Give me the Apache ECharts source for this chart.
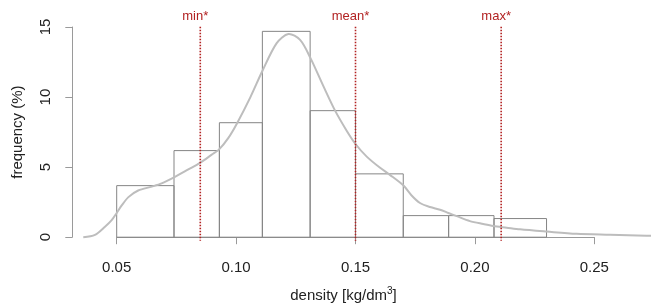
<!DOCTYPE html>
<html><head><meta charset="utf-8">
<script src="https://cdn.jsdelivr.net/npm/echarts@6/dist/echarts.min.js"></script>
<style>html,body{margin:0;padding:0;background:#fff}#c{width:651px;height:308px}</style>
</head><body><div id="c"></div>
<script>
// histogram bin edges (density, kg/dm3) and frequencies (%)
var binEdges = [0.050, 0.074, 0.093, 0.111, 0.131, 0.150, 0.170, 0.189, 0.208, 0.230];
var binFreq  = [3.68, 6.18, 8.17, 14.69, 9.03, 4.52, 1.54, 1.54, 1.33];
// kernel density curve (scaled to %)
var curveX = [0.0360, 0.0409, 0.0451, 0.0479, 0.0500, 0.0521, 0.0549, 0.0590, 0.0647, 0.0688, 0.0744, 0.0800, 0.0849, 0.0898, 0.0928, 0.0967, 0.1003, 0.1060, 0.1110, 0.1170, 0.1219, 0.1268, 0.1311, 0.1365, 0.1414, 0.1463, 0.1500, 0.1547, 0.1603, 0.1644, 0.1700, 0.1735, 0.1770, 0.1812, 0.1854, 0.1889, 0.1924, 0.1979, 0.2035, 0.2077, 0.2133, 0.2189, 0.2301, 0.2426, 0.2566, 0.2719, 0.2760];
var curveY = [0.00, 0.17, 0.75, 1.22, 1.73, 2.27, 2.86, 3.33, 3.61, 3.84, 4.31, 4.84, 5.31, 5.89, 6.25, 7.07, 8.10, 10.00, 11.86, 13.85, 14.50, 14.08, 12.80, 10.80, 9.05, 7.60, 6.65, 5.75, 4.95, 4.45, 3.70, 2.98, 2.44, 2.15, 1.96, 1.73, 1.50, 1.15, 0.94, 0.80, 0.68, 0.56, 0.40, 0.24, 0.17, 0.10, 0.09];
// reference lines
var refNames = ['min*', 'mean*', 'max*'];
var refValues = [0.085, 0.150, 0.211];
var xTicks = [0.05, 0.10, 0.15, 0.20, 0.25];
var yTicks = [0, 5, 10, 15];

var bars = binFreq.map(function (f, i) { return [binEdges[i], binEdges[i + 1], f]; });
var refs = refValues.map(function (v, i) { return [v, i]; });

var chart = echarts.init(document.getElementById('c'), null, {renderer: 'canvas'});
var axisCol = '#9a9a9a';
var font = 'Liberation Sans, Arial, sans-serif';
chart.setOption({
  animation: false,
  backgroundColor: '#ffffff',
  grid: {left: 116.7, right: 56.7, top: 27, bottom: 67.3},
  xAxis: {
    type: 'value', min: xTicks[0], max: xTicks[xTicks.length - 1], interval: 0.05,
    offset: 8.3,
    axisLine: {show: true, lineStyle: {color: axisCol, width: 1}},
    axisTick: {show: true, length: 7, lineStyle: {color: axisCol}},
    axisLabel: {color: '#222', fontSize: 15, fontFamily: font, margin: 15,
      formatter: function (v) { return v.toFixed(2); }},
    splitLine: {show: false},
    name: 'density [kg/dm{s|3}]', nameLocation: 'middle', nameGap: 41,
    nameTextStyle: {color: '#222', fontSize: 15, fontFamily: font, padding: [0, 24, 0, 0],
      rich: {s: {fontSize: 10, verticalAlign: 'top', padding: [0, 0, 8, 0], fontFamily: font, color: '#222'}}}
  },
  yAxis: {
    type: 'value', min: yTicks[0], max: yTicks[yTicks.length - 1], interval: 5,
    offset: 44.4,
    axisLine: {show: true, lineStyle: {color: axisCol, width: 1}},
    axisTick: {show: true, length: 7, lineStyle: {color: axisCol}},
    axisLabel: {color: '#222', fontSize: 15, fontFamily: font, rotate: 90, margin: 19},
    splitLine: {show: false},
    name: 'frequency (%)', nameLocation: 'middle', nameGap: 47, nameRotate: 90,
    nameTextStyle: {color: '#222', fontSize: 15, fontFamily: font}
  },
  series: [
    {
      type: 'custom', data: bars, z: 2,
      renderItem: function (params, api) {
        var p0 = api.coord([api.value(0), api.value(2)]);
        var p1 = api.coord([api.value(1), 0]);
        return {type: 'rect', shape: {x: p0[0], y: p0[1], width: p1[0] - p0[0], height: p1[1] - p0[1]},
          style: {fill: 'rgba(0,0,0,0)', stroke: '#858585', lineWidth: 1}};
      }
    },
    {
      type: 'custom', data: [0], z: 3,
      renderItem: function (params, api) {
        var pts = curveX.map(function (x, i) { return api.coord([x, curveY[i]]); });
        return {type: 'polyline', shape: {points: pts, smooth: 0.3},
          style: {fill: null, stroke: '#bdbdbd', lineWidth: 2}};
      }
    },
    {
      type: 'custom', data: refs, z: 4,
      renderItem: function (params, api) {
        var v = api.value(0);
        var top = api.coord([v, 15.02]);
        var bot = api.coord([v, -0.25]);
        var lab = api.coord([v, 15.77]);
        return {type: 'group', children: [
          {type: 'line', shape: {x1: top[0], y1: top[1], x2: bot[0], y2: bot[1]},
            style: {stroke: '#b22222', lineWidth: 1.6, lineDash: [1.5, 1.5]}},
          {type: 'text', x: lab[0] - 5, y: lab[1],
            style: {text: refNames[params.dataIndex], fill: '#b22222', font: '13px ' + font,
              textAlign: 'center', textVerticalAlign: 'middle'}}
        ]};
      }
    }
  ]
});
</script></body></html>
